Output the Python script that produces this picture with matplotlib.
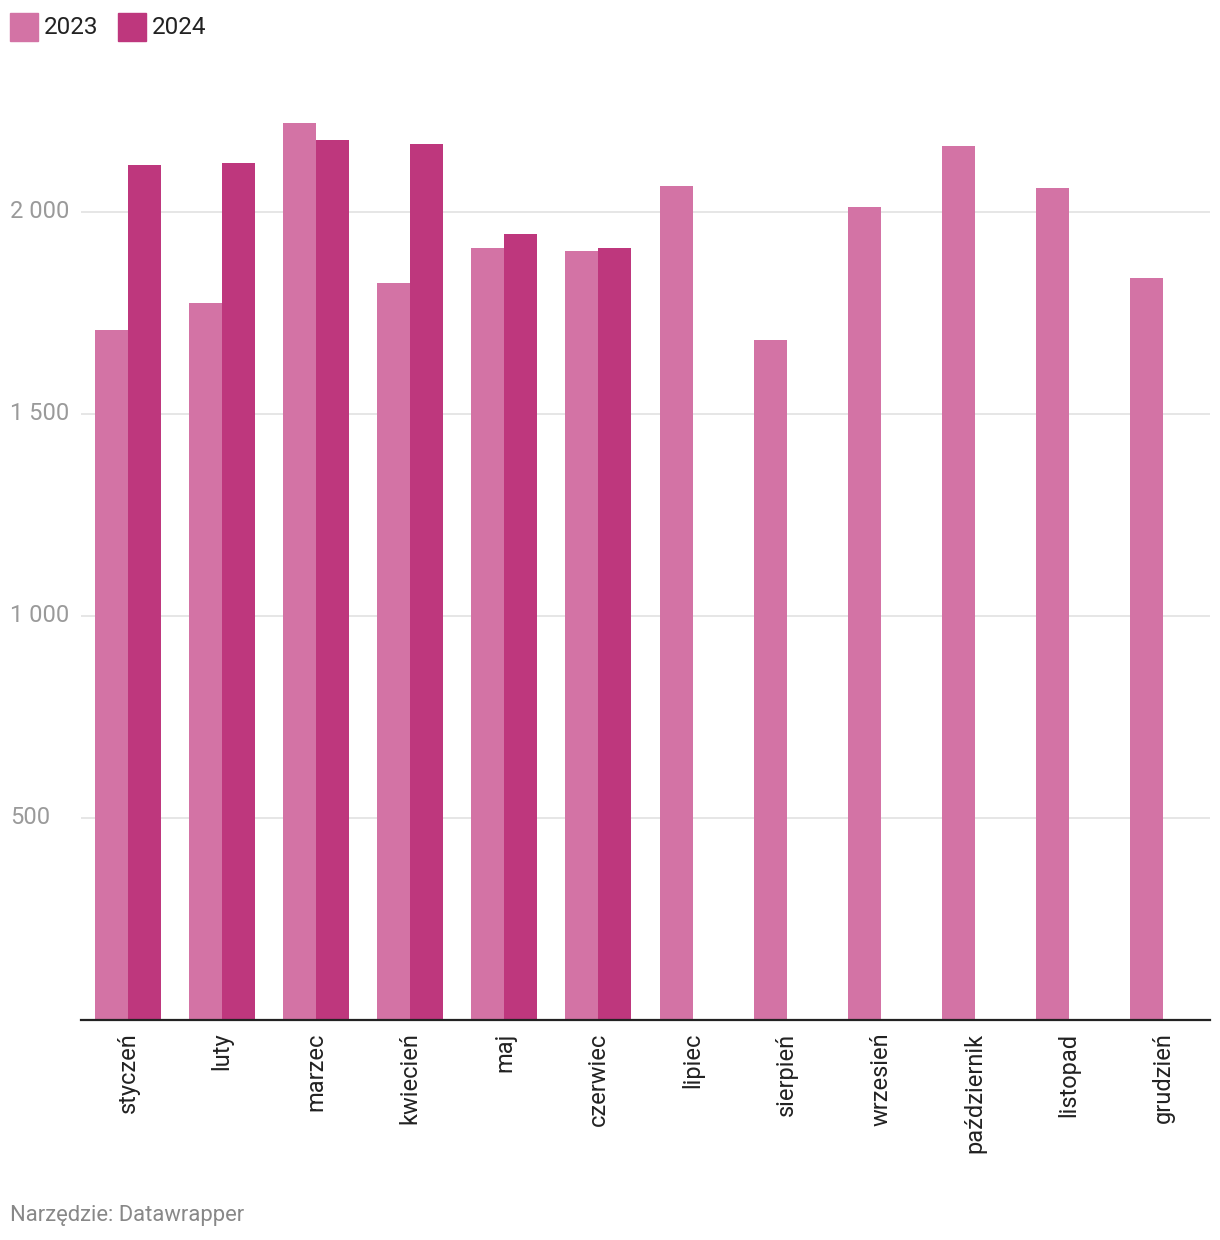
import numpy as np
import matplotlib.pyplot as plt
from matplotlib.patches import Rectangle

plt.rcParams['font.family'] = ['Roboto', 'DejaVu Sans']

months = ['styczeń', 'luty', 'marzec', 'kwiecień', 'maj', 'czerwiec',
          'lipiec', 'sierpień', 'wrzesień', 'październik', 'listopad', 'grudzień']
values_2023 = [1708, 1775, 2220, 1824, 1911, 1903, 2064, 1683, 2012, 2163, 2059, 1837]
values_2024 = [2116, 2121, 2178, 2168, 1946, 1911]
yticks = [500, 1000, 1500, 2000]
ytick_labels = ['500', '1 000', '1 500', '2 000']

c2023 = '#d373a5'
c2024 = '#be377d'

fig = plt.figure(figsize=(12.2, 12.4), dpi=100)
# axes in pixel coords: left 81, right 1210, bottom 1020, top 80
ax = fig.add_axes([81/1220, 1 - 1020/1240, (1210-81)/1220, (1020-80)/1240])

x = np.arange(len(months))
w = 0.351
ax.bar(x - w/2, values_2023, width=w, color=c2023, zorder=2)
ax.bar(x[:len(values_2024)] + w/2, values_2024, width=w, color=c2024, zorder=2)

ax.set_xlim(-0.5, len(months) - 0.5)
ymax = (1020 - 80) / 202 * 500
ax.set_ylim(0, ymax)

for yv in yticks:
    ax.axhline(yv, color='#e2e2e2', lw=1.2, zorder=1)
ax.set_yticks([])
for yv, lab in zip(yticks, ytick_labels):
    ax.text(-0.5 - 71/94, yv, lab, ha='left', va='center', fontsize=17,
            color='#9a9a9a', transform=ax.transData)

ax.set_xticks(x)
ax.set_xticklabels(months, rotation=90, fontsize=17, color='#222222', va='top')
ax.tick_params(axis='x', length=0, pad=9)

for s in ['top', 'right', 'left']:
    ax.spines[s].set_visible(False)
ax.spines['bottom'].set_color('#222222')
ax.spines['bottom'].set_linewidth(1.6)
ax.spines['bottom'].set_zorder(3)

# legend
for px, col, lab in [(10, c2023, '2023'), (118, c2024, '2024')]:
    fig.patches.append(Rectangle((px/1220, 1 - 41/1240), 28/1220, 28/1240,
                                 transform=fig.transFigure, color=col))
    fig.text((px + 34)/1220, 1 - 27/1240, lab, fontsize=17.5, color='#222222',
             ha='left', va='center')

fig.text(10/1220, 1 - 1215/1240, 'Narzędzie: Datawrapper', fontsize=15.8,
         color='#888888', ha='left', va='center')

fig.savefig('out.png', dpi=100)
